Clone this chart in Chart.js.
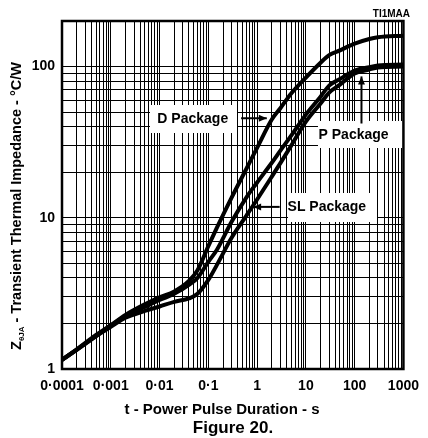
<!DOCTYPE html>
<html>
<head>
<meta charset="utf-8">
<script src="https://cdn.jsdelivr.net/npm/chart.js@4"></script>
<style>
html, body { margin: 0; padding: 0; background: #fff; }
canvas { background: #fff; }
</style>
</head>
<body>
<canvas id="grafico" width="428" height="438"></canvas>
<script>
// datos (t en s, Z en °C/W)
const pulseTimes = [0.0001, 0.0002, 0.0005, 0.001, 0.002, 0.005, 0.01, 0.02, 0.04, 0.06, 0.1, 0.15, 0.3, 0.6, 1, 2, 3, 5, 10, 20, 30, 50, 100, 200, 300, 1000];
const dPackage  = [1.15, 1.35, 1.68, 1.95, 2.28, 2.68, 2.98, 3.26, 3.82, 4.5, 6.5, 8.6, 13.6, 21, 29, 44.6, 53, 66.4, 84.6, 106, 119, 128, 141.6, 152, 156, 160];
const pPackage  = [1.15, 1.34, 1.65, 1.93, 2.24, 2.57, 2.86, 3.14, 3.6, 4.0, 5.11, 6.14, 9.4, 13.6, 17.1, 23.1, 27.8, 34.9, 48.1, 63.2, 74.8, 82.6, 94.1, 99, 101.6, 103];
const slPackage = [1.15, 1.34, 1.65, 1.90, 2.18, 2.42, 2.59, 2.78, 2.93, 3.14, 3.88, 4.88, 7.37, 10.3, 13.2, 18.7, 23.0, 30.0, 43.2, 57.0, 67.3, 76.0, 89.9, 95.6, 98.5, 100];

const xMajor = [0.0001, 0.001, 0.01, 0.1, 1, 10, 100, 1000];
const xTickLabels = ['0·0001', '0·001', '0·01', '0·1', '1', '10', '100', '1000'];
const yMajor = [1, 10, 100];
const yTickLabels = ['1', '10', '100'];
const gridSteps = [1, 2, 3, 4, 5, 6, 7, 8, 9];

const xGrid = [];
xMajor.slice(0, -1).forEach(d => gridSteps.forEach(s => xGrid.push(d * s)));
xGrid.push(1000);
const yGrid = [];
yMajor.slice(0, -1).forEach(d => gridSteps.forEach(s => yGrid.push(d * s)));
yGrid.push(100);

const FONT = '"Liberation Sans", Arial, Helvetica, sans-serif';

function labelFor(value, majors, labels) {
    const i = majors.findIndex(m => Math.abs(Math.log10(m) - Math.log10(value)) < 1e-6);
    return i >= 0 ? labels[i] : '';
}

// etiquetas con flecha, en unidades de los ejes
const etiquetas = [
    { text: 'D Package',  at: [0.048, 45],  box: [150, 237, 105, 133], from: [0.47, 45.5], to: [1.58, 45.5], head: 'right' },
    { text: 'P Package',  at: [95, 35.4],   box: [318, 404, 121, 148], from: [138, 42], to: [138, 86], head: 'up' },
    { text: 'SL Package', at: [26.9, 11.8], box: [288, 377, 193, 222], from: [2.9, 11.8], to: [0.83, 11.8], head: 'left' },
];

const decoraciones = {
    id: 'decoraciones',
    afterDatasetsDraw(chart) {
        const { ctx, chartArea, scales: { x, y } } = chart;
        ctx.save();

        etiquetas.forEach(e => {
            const [l, r, t, b] = e.box;
            ctx.fillStyle = '#fff';
            ctx.fillRect(l, t, r - l, b - t);

            ctx.fillStyle = '#000';
            ctx.font = 'bold 14px ' + FONT;
            ctx.textAlign = 'center';
            ctx.textBaseline = 'middle';
            ctx.fillText(e.text, x.getPixelForValue(e.at[0]), y.getPixelForValue(e.at[1]));

            const x1 = x.getPixelForValue(e.from[0]), y1 = y.getPixelForValue(e.from[1]);
            const x2 = x.getPixelForValue(e.to[0]), y2 = y.getPixelForValue(e.to[1]);
            ctx.strokeStyle = '#000';
            ctx.lineWidth = 2;
            ctx.beginPath();
            ctx.moveTo(x1, y1);
            ctx.lineTo(x2, y2);
            ctx.stroke();
            ctx.beginPath();
            if (e.head === 'right') {
                ctx.moveTo(x2, y2); ctx.lineTo(x2 - 8, y2 - 3.5); ctx.lineTo(x2 - 8, y2 + 3.5);
            } else if (e.head === 'left') {
                ctx.moveTo(x2, y2); ctx.lineTo(x2 + 8, y2 - 3.5); ctx.lineTo(x2 + 8, y2 + 3.5);
            } else {
                ctx.moveTo(x2, y2); ctx.lineTo(x2 - 3.5, y2 + 8); ctx.lineTo(x2 + 3.5, y2 + 8);
            }
            ctx.closePath();
            ctx.fill();
        });

        ctx.strokeStyle = '#000';
        ctx.lineWidth = 2.5;
        ctx.strokeRect(chartArea.left, chartArea.top, chartArea.right - chartArea.left, chartArea.bottom - chartArea.top);
        ctx.restore();
    },
    afterDraw(chart) {
        const ctx = chart.ctx;
        ctx.save();
        ctx.fillStyle = '#000';

        ctx.font = 'bold 10px ' + FONT;
        ctx.textAlign = 'right';
        ctx.textBaseline = 'middle';
        ctx.fillText('TI1MAA', 410, 14);

        ctx.textAlign = 'center';
        ctx.font = 'bold 15px ' + FONT;
        ctx.fillText('t - Power Pulse Duration - s', 222, 410);
        ctx.font = 'bold 17px ' + FONT;
        ctx.fillText('Figure 20.', 233, 428);

        // titulo eje Y con subindice
        const partes = [
            { text: 'Z', font: 'bold 14.5px ' + FONT, dy: 0 },
            { text: 'θJA', font: 'bold 8px ' + FONT, dy: 3 },
            { text: ' - Transient Thermal Impedance - °C/W', font: 'bold 14.5px ' + FONT, dy: 0 },
        ];
        let total = 0;
        partes.forEach(p => { ctx.font = p.font; p.w = ctx.measureText(p.text).width; total += p.w; });
        ctx.translate(21, 206);
        ctx.rotate(-Math.PI / 2);
        ctx.textAlign = 'left';
        ctx.textBaseline = 'alphabetic';
        let pos = -total / 2;
        partes.forEach(p => {
            ctx.font = p.font;
            ctx.fillText(p.text, pos, p.dy);
            pos += p.w;
        });
        ctx.restore();
    }
};

const serie = (label, values) => ({
    label: label,
    data: pulseTimes.map((t, i) => ({ x: t, y: values[i] })),
    borderColor: '#000',
    borderWidth: 4,
    pointRadius: 0,
    cubicInterpolationMode: 'monotone',
});

new Chart(document.getElementById('grafico').getContext('2d'), {
    type: 'line',
    data: {
        datasets: [
            serie('D Package', dPackage),
            serie('P Package', pPackage),
            serie('SL Package', slPackage),
        ],
    },
    options: {
        responsive: false,
        devicePixelRatio: 1,
        animation: false,
        layout: { padding: { left: 0, right: 16, top: 21, bottom: 0 } },
        plugins: {
            legend: { display: false },
            tooltip: { enabled: false },
        },
        scales: {
            x: {
                type: 'logarithmic',
                min: 0.0001,
                max: 1000,
                afterBuildTicks: scale => { scale.ticks = xGrid.map(v => ({ value: v })); },
                afterFit: scale => { scale.height = 69; },
                grid: { color: '#000', drawTicks: false },
                ticks: {
                    autoSkip: false,
                    maxRotation: 0,
                    padding: 9,
                    color: '#000',
                    font: { family: FONT, size: 14, weight: 'bold' },
                    callback: value => labelFor(value, xMajor, xTickLabels),
                },
            },
            y: {
                type: 'logarithmic',
                min: 1,
                max: 200,
                afterBuildTicks: scale => { scale.ticks = yGrid.map(v => ({ value: v })); },
                afterFit: scale => { scale.width = 62; },
                grid: { color: '#000', drawTicks: false },
                ticks: {
                    autoSkip: false,
                    padding: 7,
                    color: '#000',
                    font: { family: FONT, size: 14, weight: 'bold' },
                    callback: value => labelFor(value, yMajor, yTickLabels),
                },
            },
        },
    },
    plugins: [decoraciones],
});
</script>
</body>
</html>
